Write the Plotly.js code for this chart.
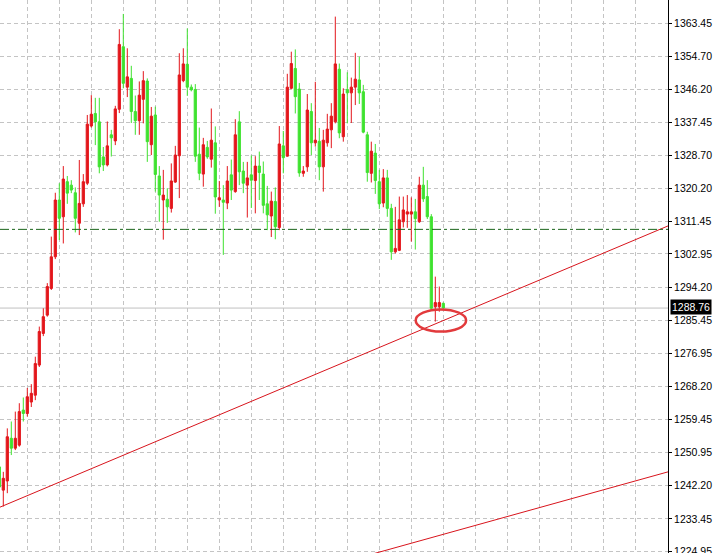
<!DOCTYPE html>
<html>
<head>
<meta charset="utf-8">
<script src="https://cdn.plot.ly/plotly-3.0.1.min.js"></script>
<style>
html,body{margin:0;padding:0;background:#fff;}
#chart{width:714px;height:553px;}
</style>
</head>
<body>
<div id="chart"></div>
<script>
// Candle index (bar number)
const barIndex = [];
for (let k = 0; k < 112; k++) barIndex.push(k);

const openP = [
1247.1,1241.0,1243.4,1254.6,1252.0,1252.8,1262.0,1261.1,1264.1,1265.9,
1273.8,1282.1,1286.9,1293.9,1302.2,1317.1,1312.7,1321.9,1321.0,1319.0,
1311.0,1316.1,1321.5,1336.5,1339.8,1337.6,1328.4,1326.3,1334.2,1332.6,
1340.9,1357.3,1346.7,1349.0,1340.3,1337.9,1343.5,1348.3,1331.6,1339.4,
1323.4,1317.1,1317.3,1314.9,1321.8,1328.7,1348.4,1352.7,1346.7,1346.1,
1329.1,1323.9,1330.9,1327.8,1332.1,1317.1,1317.1,1316.3,1323.7,1319.3,
1337.6,1324.7,1321.0,1323.7,1322.2,1326.0,1323.9,1316.1,1312.9,1316.7,
1309.9,1331.3,1328.6,1346.4,1351.6,1346.2,1324.1,1325.8,1340.3,1332.1,
1332.5,1325.8,1332.1,1335.5,1337.6,1351.4,1333.7,1346.1,1345.2,1346.7,
1348.6,1345.5,1334.2,1324.1,1329.4,1321.9,1316.3,1322.9,1314.9,1303.5,
1303.9,1311.4,1313.4,1313.4,1314.0,1311.4,1321.0,1318.0,1312.7,1289.1,
1289.1,1290.0];
const highP = [
1247.6,1245.8,1257.2,1259.0,1261.6,1263.8,1265.3,1267.8,1268.8,1276.0,
1283.9,1288.7,1295.3,1307.5,1319.0,1321.5,1326.0,1323.4,1322.3,1320.4,
1327.6,1323.9,1339.4,1344.6,1343.9,1343.9,1331.0,1337.7,1335.5,1341.8,
1361.9,1365.9,1356.9,1352.3,1344.5,1348.2,1350.9,1349.0,1341.5,1341.6,
1326.0,1325.0,1320.2,1326.7,1331.3,1355.6,1356.9,1362.1,1347.4,1347.5,
1336.1,1333.4,1332.6,1341.1,1336.4,1322.1,1321.0,1326.0,1327.7,1338.3,
1340.4,1327.1,1327.1,1328.8,1328.6,1329.8,1327.2,1320.8,1319.3,1320.4,
1336.5,1335.2,1350.2,1356.0,1356.6,1347.8,1326.0,1344.9,1342.5,1348.1,
1336.0,1335.5,1339.7,1342.5,1365.2,1352.9,1346.4,1350.6,1349.2,1355.7,
1354.7,1347.3,1335.0,1332.4,1331.8,1325.0,1325.2,1325.0,1316.1,1315.3,
1318.0,1318.0,1318.4,1317.8,1317.4,1323.2,1325.8,1322.3,1313.4,1297.0,
1294.4,1290.2];
const lowP = [
1241.3,1236.7,1240.2,1250.2,1251.5,1252.4,1259.0,1260.3,1262.8,1264.6,
1273.3,1281.4,1286.5,1293.5,1301.6,1306.6,1305.7,1316.1,1318.9,1308.6,
1307.9,1315.3,1321.0,1336.1,1331.5,1324.1,1324.7,1325.9,1328.5,1331.5,
1339.9,1346.4,1344.1,1337.3,1334.2,1334.2,1337.2,1327.1,1328.9,1319.3,
1311.4,1306.7,1311.1,1313.8,1321.6,1317.6,1348.0,1344.4,1345.6,1327.1,
1322.3,1320.6,1327.9,1325.6,1313.5,1315.3,1302.7,1314.7,1317.1,1319.0,
1321.0,1318.9,1312.5,1315.0,1313.6,1317.1,1313.6,1309.2,1307.4,1306.8,
1309.2,1324.1,1328.5,1346.1,1339.8,1323.2,1323.2,1324.5,1328.9,1331.1,
1322.3,1319.3,1331.1,1330.7,1337.2,1333.3,1332.4,1337.2,1337.3,1342.0,
1342.3,1334.6,1321.9,1321.7,1318.7,1314.7,1315.2,1312.7,1301.4,1303.1,
1303.7,1309.9,1309.8,1306.2,1304.1,1311.1,1316.6,1312.1,1288.2,1285.2,
1287.8,1288.5];
const closeP = [
1241.8,1244.1,1255.0,1252.0,1254.6,1261.6,1261.1,1265.5,1266.4,1274.2,
1282.6,1286.5,1294.4,1302.2,1317.1,1312.3,1322.6,1318.9,1319.7,1312.3,
1316.2,1321.9,1337.0,1339.6,1337.6,1325.8,1326.3,1331.3,1333.4,1341.0,
1357.9,1347.7,1349.4,1340.3,1337.9,1344.6,1348.4,1332.4,1339.1,1323.8,
1318.4,1318.4,1315.3,1322.1,1328.9,1349.9,1352.8,1346.7,1346.0,1328.6,
1324.1,1331.6,1328.4,1332.8,1317.9,1317.7,1316.5,1322.1,1319.7,1334.2,
1324.5,1321.5,1322.9,1322.3,1326.0,1324.3,1315.7,1313.2,1316.8,1310.1,
1331.8,1328.2,1346.7,1352.9,1344.2,1324.2,1324.7,1340.7,1332.1,1332.8,
1325.8,1332.8,1335.7,1339.1,1352.8,1334.7,1344.9,1345.2,1346.7,1348.8,
1345.2,1334.9,1324.3,1329.9,1322.2,1316.1,1322.9,1314.9,1303.5,1304.4,
1311.9,1314.5,1314.0,1314.0,1312.2,1321.0,1317.4,1312.7,1288.7,1290.2,
1290.2,1288.76];

// Price axis labels
const priceTicks = [1224.95,1233.45,1242.20,1250.95,1259.45,1268.20,1276.95,1285.45,
  1294.20,1302.95,1311.45,1320.20,1328.70,1337.45,1346.20,1354.70,1363.45];

// Chart objects (anchor points in bar index / price)
const trend1X = [1, 109];
const trend1Y = [1236.9, 1284.6];
const trend2X = [100, 160];
const trend2Y = [1226.2, 1243.7];
const supportLevel = 1309.4;
const bidPrice = 1288.76;
const ellipseX = [104.1, 116.7];
const ellipseY = [1282.6, 1288.4];

const RED = '#e3161b';
const GREEN = '#3fe22f';
const FONT = '"Liberation Sans Narrow","Liberation Sans",Arial,sans-serif';

function extend(xs, ys, xa, xb) {
  const m = (ys[1] - ys[0]) / (xs[1] - xs[0]);
  return {x0: xa, y0: ys[0] + m * (xa - xs[0]), x1: xb, y1: ys[0] + m * (xb - xs[0])};
}
const t1 = extend(trend1X, trend1Y, -5, 175);
const t2 = extend(trend2X, trend2Y, -5, 175);

const trace = {
  type: 'candlestick',
  x: barIndex, open: openP, high: highP, low: lowP, close: closeP,
  increasing: {line: {color: RED, width: 1}, fillcolor: RED},
  decreasing: {line: {color: GREEN, width: 1}, fillcolor: GREEN},
  whiskerwidth: 0,
  hoverinfo: 'skip',
  showlegend: false
};

const layout = {
  width: 714, height: 553,
  margin: {l: 0, r: 46, t: 0, b: 0, pad: 0},
  paper_bgcolor: '#ffffff', plot_bgcolor: '#ffffff',
  showlegend: false,
  boxgap: 0.45, boxgroupgap: 0,
  xaxis: {
    type: 'linear', range: [0.175, 167.175],
    rangeslider: {visible: false},
    showticklabels: false, ticks: '',
    tick0: 7.1, dtick: 8,
    showgrid: true, gridcolor: '#c4c4c4', griddash: '4px,3px', gridwidth: 1,
    zeroline: false, showline: false, fixedrange: true
  },
  yaxis: {
    side: 'right', range: [1224.51, 1369.56],
    tickvals: priceTicks, ticktext: priceTicks.map(v => v.toFixed(2)),
    ticklabeloverflow: 'allow',
    ticks: 'outside', ticklen: 3, tickcolor: '#000', tickwidth: 1,
    tickfont: {family: FONT, size: 10.5, color: '#000'},
    showline: true, linecolor: '#000', linewidth: 1,
    showgrid: true, gridcolor: '#c4c4c4', griddash: '4px,3px', gridwidth: 1,
    zeroline: false, fixedrange: true
  },
  shapes: [
    {type: 'line', xref: 'x', yref: 'y', x0: t1.x0, y0: t1.y0, x1: t1.x1, y1: t1.y1,
     line: {color: '#d8141c', width: 1}},
    {type: 'line', xref: 'x', yref: 'y', x0: t2.x0, y0: t2.y0, x1: t2.x1, y1: t2.y1,
     line: {color: '#d8141c', width: 1}},
    {type: 'line', xref: 'paper', yref: 'y', x0: 0, x1: 1, y0: supportLevel, y1: supportLevel,
     line: {color: '#1a641a', width: 1, dash: 'dashdot'}},
    {type: 'line', xref: 'paper', yref: 'y', x0: 0, x1: 1, y0: bidPrice, y1: bidPrice,
     line: {color: '#c0c0c0', width: 1}, layer: 'below'},
    {type: 'circle', xref: 'x', yref: 'y', x0: ellipseX[0], x1: ellipseX[1], y0: ellipseY[0], y1: ellipseY[1],
     line: {color: '#e23a3c', width: 2.5}, fillcolor: 'rgba(0,0,0,0)'}
  ],
  annotations: [
    {xref: 'paper', yref: 'y', x: 1, y: bidPrice, xanchor: 'left', yanchor: 'middle',
     xshift: 2, yshift: 1, text: bidPrice.toFixed(2), showarrow: false,
     bgcolor: '#000', borderpad: 1,
     font: {family: FONT, size: 10.5, color: '#fff'}}
  ]
};

Plotly.newPlot('chart', [trace], layout, {displayModeBar: false, staticPlot: true});
</script>
</body>
</html>
